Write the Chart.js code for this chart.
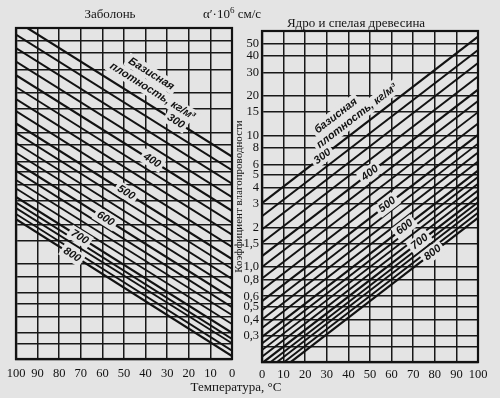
<!DOCTYPE html>
<html>
<head>
<meta charset="utf-8">
<script src="https://cdn.jsdelivr.net/npm/chart.js@4.4.0/dist/chart.umd.min.js"></script>
<style>
  html, body { margin: 0; padding: 0; }
  body {
    width: 500px; height: 398px; position: relative; overflow: hidden;
    background: #e4e4e4; color: #141414;
    font-family: "Liberation Serif", "DejaVu Serif", serif;
  }
  canvas { position: absolute; top: 0; }
  #sapwood { left: 0; }
  #heartwood { left: 226px; }
  .txt { position: absolute; transform: translate(-50%, -50%); white-space: nowrap; font-size: 13px; }
  .txt sup { font-size: 9px; line-height: 0; }
</style>
</head>
<body>
<canvas id="sapwood" width="240" height="398"></canvas>
<canvas id="heartwood" width="274" height="398"></canvas>
<div class="txt" style="left:110px; top:14px;">Заболонь</div>
<div class="txt" style="left:232px; top:14px;">α′·10<sup>6</sup> см/с</div>
<div class="txt" style="left:356px; top:23px;">Ядро и спелая древесина</div>
<div class="txt" style="left:236px; top:387px;">Температура, °С</div>
<script>
// базисная плотность, кг/м3 - по одной линии на каждое значение
const densities = [300, 325, 350, 375, 400, 425, 450, 475, 500, 525, 550,
                   575, 600, 625, 650, 675, 700, 725, 750, 775, 800];

// коэффициент a'·10^6 (см/с) на концах линий: при 0 °С и при 100 °С
const sapwoodAt0   = [6.55, 5.16, 4.08, 3.22, 2.54, 2.06, 1.67, 1.35, 1.09, 0.92, 0.77,
                      0.65, 0.55, 0.47, 0.41, 0.35, 0.30, 0.27, 0.25, 0.22, 0.20];
const sapwoodAt100 = [70.2, 55.3, 43.7, 34.5, 27.2, 22.1, 17.9, 14.5, 11.7, 9.9, 8.3,
                      7.0, 5.9, 5.1, 4.35, 3.75, 3.23, 2.93, 2.66, 2.40, 2.19];
const heartAt0     = [3.06, 2.43, 1.93, 1.53, 1.21, 1.0, 0.82, 0.67, 0.55, 0.47, 0.40,
                      0.345, 0.295, 0.263, 0.234, 0.208, 0.186, 0.169, 0.155, 0.141, 0.129];
const heartAt100   = [56.1, 44.5, 35.4, 28.0, 22.2, 18.2, 15.0, 12.3, 10.1, 8.65, 7.4,
                      6.32, 5.4, 4.82, 4.29, 3.81, 3.41, 3.10, 2.84, 2.58, 2.36];

const labeledDensities = [300, 400, 500, 600, 700, 800];
const tempTicks = [0, 10, 20, 30, 40, 50, 60, 70, 80, 90, 100];
const yTicks = [50, 40, 30, 20, 15, 10, 8, 6, 5, 4, 3, 2, 1.5, 1, 0.8, 0.6, 0.5, 0.4, 0.3, 0.25];
const yTickLabels = ["50", "40", "30", "20", "15", "10", "8", "6", "5", "4", "3", "2",
                     "1,5", "1,0", "0,8", "0,6", "0,5", "0,4", "0,3", ""];
const yMin = 0.19, yMax = 62;

// где по температуре стоят подписи на линиях
const sapwoodLabelT = [26, 37, 49, 58.5, 70.5, 74];
const heartLabelT = [28, 50, 58, 66, 73, 79];

const BG = '#e4e4e4';
const INK = '#121212';

function lineSets(at0, at100) {
  return densities.map((d, i) => ({
    label: String(d),
    data: [{ x: 0, y: at0[i] }, { x: 100, y: at100[i] }],
    borderColor: INK,
    borderWidth: labeledDensities.includes(d) ? 2.2 : 1.9,
    pointRadius: 0,
    tension: 0
  }));
}

// подписи вдоль линий (с разрывом линии под текстом)
const lineLabels = {
  id: 'lineLabels',
  afterDatasetsDraw(chart, args, opts) {
    const { ctx } = chart;
    const xs = chart.scales.x, ys = chart.scales.y;
    ctx.save();
    ctx.textAlign = 'center';
    ctx.textBaseline = 'middle';
    opts.items.forEach(it => {
      const i = densities.indexOf(it.d);
      const v0 = opts.at0[i], v100 = opts.at100[i];
      const pa = { x: xs.getPixelForValue(0), y: ys.getPixelForValue(v0) };
      const pb = { x: xs.getPixelForValue(100), y: ys.getPixelForValue(v100) };
      const l = pa.x < pb.x ? pa : pb, r = pa.x < pb.x ? pb : pa;
      const ang = Math.atan2(r.y - l.y, r.x - l.x);
      const v = v0 * Math.pow(v100 / v0, it.t / 100);
      const off = it.off || 0;
      const px = xs.getPixelForValue(it.t) + Math.sin(ang) * off;
      const py = ys.getPixelForValue(v) - Math.cos(ang) * off;
      ctx.save();
      ctx.translate(px, py);
      ctx.rotate(ang);
      ctx.font = 'italic bold 11px "Liberation Sans", "DejaVu Sans", sans-serif';
      const w = ctx.measureText(it.text).width;
      ctx.fillStyle = BG;
      ctx.fillRect(-w / 2 - 3, -7, w + 6, 14);
      ctx.fillStyle = INK;
      ctx.fillText(it.text, 0, 0);
      ctx.restore();
    });
    ctx.restore();
  }
};

const frame = {
  id: 'frame',
  afterDraw(chart) {
    const { ctx, chartArea: a } = chart;
    ctx.save();
    ctx.strokeStyle = INK;
    ctx.lineWidth = 2.2;
    ctx.strokeRect(a.left, a.top, a.right - a.left, a.bottom - a.top);
    ctx.restore();
  }
};

function makeChart(id, cfg) {
  const tickFont = { family: '"Liberation Serif", "DejaVu Serif", serif', size: 12.5 };
  const items = labeledDensities.map((d, k) => ({ d, t: cfg.labelT[k], text: String(d) }))
    .concat(cfg.caption);
  return new Chart(document.getElementById(id), {
    type: 'line',
    data: { datasets: lineSets(cfg.at0, cfg.at100) },
    options: {
      responsive: false,
      animation: false,
      events: [],
      layout: { padding: { top: cfg.top, right: cfg.right, left: 0, bottom: 0 } },
      plugins: {
        legend: { display: false },
        tooltip: { enabled: false },
        lineLabels: { items, at0: cfg.at0, at100: cfg.at100 }
      },
      scales: {
        x: {
          type: 'linear',
          min: 0, max: 100,
          reverse: cfg.reverse,
          afterBuildTicks: axis => { axis.ticks = tempTicks.map(v => ({ value: v })); },
          afterFit: axis => { axis.height = cfg.xHeight; },
          ticks: { color: INK, font: tickFont, padding: cfg.xPad, maxRotation: 0, autoSkip: false },
          grid: { color: '#181818', lineWidth: 1.5, drawTicks: false },
          border: { display: true, color: INK, width: 2.2 }
        },
        y: {
          type: 'logarithmic',
          min: yMin, max: yMax,
          afterBuildTicks: axis => { axis.ticks = yTicks.map(v => ({ value: v })); },
          afterFit: axis => { axis.width = cfg.yWidth; },
          ticks: {
            display: cfg.showY,
            color: INK, font: tickFont, padding: 3, autoSkip: false,
            callback: (v, i) => yTickLabels[i]
          },
          title: {
            display: cfg.showY,
            text: 'Коэффициент влагопроводности',
            color: INK,
            font: { family: '"Liberation Serif", "DejaVu Serif", serif', size: 11 },
            padding: { top: 7, bottom: 0 }
          },
          grid: { color: '#181818', lineWidth: 1.5, drawTicks: false },
          border: { display: true, color: INK, width: 2.2 }
        }
      }
    },
    plugins: [lineLabels, frame]
  });
}

// Заболонь: ось температуры идёт справа налево
makeChart('sapwood', {
  at0: sapwoodAt0, at100: sapwoodAt100,
  labelT: sapwoodLabelT,
  caption: [
    { d: 300, t: 44, off: 27, text: 'Базисная' },
    { d: 300, t: 40, off: 13, text: 'плотность, кг/м³' }
  ],
  reverse: true, top: 28, right: 8, xHeight: 39, xPad: 7, yWidth: 16, showY: false
});

// Ядро и спелая древесина
makeChart('heartwood', {
  at0: heartAt0, at100: heartAt100,
  labelT: heartLabelT,
  caption: [
    { d: 300, t: 41, off: 24, text: 'базисная' },
    { d: 300, t: 47, off: 11, text: 'плотность, кг/м³' }
  ],
  reverse: false, top: 31, right: 22, xHeight: 36, xPad: 5, yWidth: 36, showY: true
});
</script>
</body>
</html>
